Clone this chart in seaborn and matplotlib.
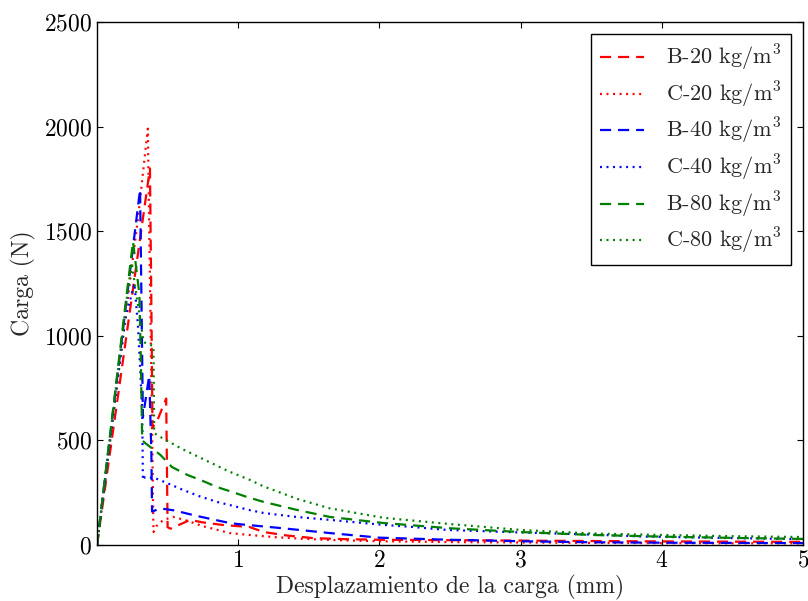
import matplotlib
matplotlib.use("Agg")
import matplotlib.pyplot as plt
import seaborn as sns
import pandas as pd

# ---- data ----
x_b20 = [0, 0.10, 0.20, 0.30, 0.375, 0.385, 0.393, 0.43, 0.49, 0.50, 0.52, 0.66, 0.75, 0.90, 1.08, 1.18, 1.35, 1.53, 1.75, 2.0, 2.5, 3.0, 3.5, 4.0, 4.5, 5.0]
y_b20 = [0, 480, 960, 1440, 1800, 1150, 560, 600, 700, 85, 78, 120, 108, 95, 86, 62, 45, 33, 28, 25, 23, 21, 19, 17, 16, 15]

x_c20 = [0, 0.10, 0.20, 0.29, 0.36, 0.40, 0.42, 0.47, 0.54, 0.62, 0.75, 0.94, 1.08, 1.25, 1.45, 1.65, 2.0, 2.5, 3.0, 3.5, 4.0, 4.5, 5.0]
y_c20 = [0, 540, 1080, 1560, 1990, 62, 90, 120, 134, 120, 90, 57, 48, 38, 30, 24, 18, 14, 12, 10, 9, 8, 8]

x_b40 = [0, 0.10, 0.20, 0.305, 0.318, 0.325, 0.37, 0.385, 0.39, 0.45, 0.55, 0.70, 0.85, 0.94, 1.0, 1.3, 1.65, 2.0, 2.5, 3.0, 3.5, 4.0, 4.5, 5.0]
y_b40 = [0, 560, 1120, 1700, 1000, 610, 810, 440, 160, 175, 165, 140, 118, 105, 100, 81, 57, 35, 25, 18, 13, 11, 10, 9]

x_c40 = [0, 0.10, 0.20, 0.265, 0.29, 0.32, 0.325, 0.34, 0.41, 0.50, 0.61, 0.73, 0.85, 0.94, 1.08, 1.18, 1.4, 1.65, 2.03, 2.24, 2.48, 3.0, 3.5, 3.9, 4.5, 5.0]
y_c40 = [0, 540, 1080, 1250, 1050, 650, 310, 325, 320, 295, 263, 232, 206, 191, 167, 153, 135, 120, 96, 86, 72, 60, 50, 40, 33, 28]

x_b80 = [0, 0.10, 0.20, 0.255, 0.30, 0.31, 0.32, 0.34, 0.45, 0.53, 0.64, 0.75, 0.85, 0.96, 1.06, 1.18, 1.42, 1.65, 2.03, 2.5, 3.0, 3.5, 4.0, 4.5, 5.0]
y_b80 = [0, 570, 1140, 1450, 1200, 900, 500, 488, 430, 373, 335, 306, 277, 253, 230, 206, 167, 134, 105, 80, 62, 48, 40, 34, 29]

x_c80 = [0, 0.10, 0.20, 0.245, 0.33, 0.40, 0.405, 0.45, 0.60, 0.80, 0.94, 1.08, 1.18, 1.42, 1.65, 2.03, 2.5, 3.0, 3.5, 4.0, 4.5, 5.0]
y_c80 = [0, 560, 1120, 1350, 970, 950, 535, 516, 460, 395, 350, 312, 280, 220, 175, 130, 100, 72, 55, 48, 42, 38]

labels = ["B-20 kg/m$^3$", "C-20 kg/m$^3$", "B-40 kg/m$^3$",
          "C-40 kg/m$^3$", "B-80 kg/m$^3$", "C-80 kg/m$^3$"]
colors = ["#ff0000", "#ff0000", "#0000ff", "#0000ff", "#008000", "#008000"]
kinds = ["dash", "dot", "dash", "dot", "dash", "dot"]

x_ticks = [1, 2, 3, 4, 5]
y_ticks = [0, 500, 1000, 1500, 2000, 2500]
x_label = "Desplazamiento de la carga (mm)"
y_label = "Carga (N)"

series = [(x_b20, y_b20), (x_c20, y_c20), (x_b40, y_b40),
          (x_c40, y_c40), (x_b80, y_b80), (x_c80, y_c80)]

# ---- style ----
sns.set_theme(style="white")
plt.rcParams.update({
    "font.family": ["cmr10"],
    "mathtext.fontset": "cm",
    "axes.formatter.use_mathtext": True,
    "axes.edgecolor": "black",
    "axes.linewidth": 1.0,
    "xtick.direction": "in",
    "ytick.direction": "in",
    "xtick.top": True,
    "ytick.right": True,
    "xtick.bottom": True,
    "ytick.left": True,
    "xtick.major.size": 4,
    "ytick.major.size": 4,
    "xtick.color": "black",
    "ytick.color": "black",
    "lines.scale_dashes": False,
    "font.size": 17,
})

fig = plt.figure(figsize=(8.08, 6.01), dpi=100)
ax = fig.add_axes([97 / 808, 1 - 545 / 601, (803 - 97) / 808, (545 - 22) / 601])

for (xs, ys), lab, col, kind in zip(series, labels, colors, kinds):
    df = pd.DataFrame({"x": xs, "y": ys})
    sns.lineplot(data=df, x="x", y="y", ax=ax, color=col, label=lab,
                 sort=False, estimator=None, linewidth=1.6)
    line = ax.get_lines()[-1]
    if kind == "dash":
        line.set_dashes([8, 5])
    else:
        line.set_dashes([1.4, 3.3])

ax.set_xlim(0, 5)
ax.set_ylim(0, 2500)
ax.set_xticks(x_ticks)
ax.set_yticks(y_ticks)
ax.tick_params(labelsize=17, width=0.8)
ax.set_xlabel(x_label, fontsize=17, labelpad=2)
ax.set_ylabel(y_label, fontsize=17, labelpad=6)

leg = ax.legend(loc="upper right", fontsize=16, frameon=True, fancybox=False,
                edgecolor="black", framealpha=1, handlelength=2.0,
                handletextpad=1.0, borderpad=0.4, labelspacing=0.3,
                borderaxespad=0.55)
leg.get_frame().set_linewidth(1.0)

fig.savefig("out.png", dpi=100)
